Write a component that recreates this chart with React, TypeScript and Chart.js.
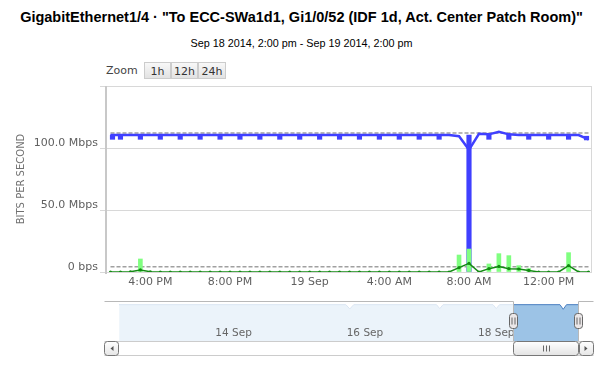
import React, { useEffect, useRef } from 'react';
import { Chart, registerables } from 'chart.js';
Chart.register(...registerables);

const TITLE = 'GigabitEthernet1/4 · "To ECC-SWa1d1, Gi1/0/52 (IDF 1d, Act. Center Patch Room)"';
const SUBTITLE = 'Sep 18 2014, 2:00 pm - Sep 19 2014, 2:00 pm';
const zoomLabel = 'Zoom';
const zoomButtons = ['1h', '12h', '24h'];

// hours since Sep 18 2014, 2:00 pm
const xTickHours = [2, 6, 10, 14, 18, 22];
const xTickLabels = ['4:00 PM', '8:00 PM', '19 Sep', '4:00 AM', '8:00 AM', '12:00 PM'];
const yTickValues = [0, 50, 100, 150]; // Mbps
const yTickLabels = ['0 bps', '50.0 Mbps', '100.0 Mbps', ''];
const yTitle = 'BITS PER SECOND';

const halfHours = [
  0, 0.5, 1, 1.5, 2, 2.5, 3, 3.5, 4, 4.5, 5, 5.5, 6, 6.5, 7, 7.5, 8, 8.5, 9, 9.5,
  10, 10.5, 11, 11.5, 12, 12.5, 13, 13.5, 14, 14.5, 15, 15.5, 16, 16.5, 17, 17.5,
  18, 18.5, 19, 19.5, 20, 20.5, 21, 21.5, 22, 22.5, 23, 23.5, 24,
];
const blueLineMbps = [
  110.5, 110.5, 110.5, 110.5, 110.5, 110.5, 110.5, 110.5, 110.5, 110.5,
  110.5, 110.5, 110.5, 110.5, 110.5, 110.5, 110.5, 110.5, 110.5, 110.5,
  110.5, 110.5, 110.5, 110.5, 110.5, 110.5, 110.5, 110.5, 110.5, 110.5,
  110.5, 110.5, 110.5, 110.5, 110.5, 109.5, 98.5, 111.5, 111, 113,
  111, 110.5, 110.5, 110.5, 110.5, 110.5, 110.5, 110.5, 107,
];
const greenLineMbps = [
  0, 0, 0.2, 1.7, 0.2, 0, 0, 0, 0, 0,
  0, 0, 0, 0, 0, 0, 0, 0, 0, 0,
  0, 0, 0, 0, 0, 0, 0, 0, 0, 0,
  0, 0, 0, 0, 0, 3.5, 7, 0, 2.7, 4.5,
  2.7, 2.4, 1.3, 0, 0, 0, 5.2, 0, 0,
];

const blueTabHours = [
  0.1, 0.5, 1.5, 2.5, 3.5, 4.5, 5.5, 6.5, 7.5, 8.5, 9.5, 10.5, 11.5, 12.5, 13.5,
  14.5, 15.5, 16.5, 18, 19, 20, 21, 22, 23, 23.9,
];
const blueTabLow = [
  107, 107, 107, 107, 107, 107, 107, 107, 107, 107, 107, 107, 107, 107, 107,
  107, 107, 107, 0, 107, 107, 107, 107, 107, 106.5,
];
const blueTabHigh = [
  110.5, 110.5, 110.5, 110.5, 110.5, 110.5, 110.5, 110.5, 110.5, 110.5, 110.5, 110.5, 110.5, 110.5, 110.5,
  110.5, 110.5, 110.5, 110.5, 111, 111, 110.5, 110.5, 110.5, 109.5,
];

const greenBarHours = [1.5, 17.5, 18, 19, 19.5, 20, 20.5, 21, 23];
const greenBarMbps = [10.5, 13.7, 18.5, 6.5, 14.8, 13.2, 5.1, 2.7, 15.6];

const percentileHours = [0, 24];
const highPercentileMbps = 112;
const lowPercentileMbps = 4.3;

// navigator: days since Sep 12 2014, 2:00 pm
const navDays = [0, 3.45, 3.51, 3.57, 4.83, 4.88, 4.93, 5.69, 5.74, 5.79, 6.71, 6.76, 6.81, 7];
const navMbps = [110, 110, 97, 110, 110, 98, 110, 110, 98, 110, 110, 96, 110, 110];
const navTickDays = [1.4167, 3.4167, 5.4167];
const navTickLabels = ['14 Sep', '16 Sep', '18 Sep'];
const navSelStart = 6;
const navSelEnd = 7;

const AXIS_FONT = '"DejaVu Sans", Verdana, sans-serif';

const mainDecor = {
  id: 'mainDecor',
  afterDraw(chart: any) {
    const { ctx, chartArea: a } = chart;
    ctx.save();
    ctx.strokeStyle = '#d8d8d8';
    ctx.lineWidth = 1;
    ctx.beginPath();
    ctx.moveTo(Math.round(a.right) - 0.5, a.top);
    ctx.lineTo(Math.round(a.right) - 0.5, a.bottom);
    ctx.stroke();
    ctx.strokeStyle = '#c8c8c8';
    ctx.lineWidth = 2;
    ctx.beginPath();
    ctx.moveTo(a.left, a.top);
    ctx.lineTo(a.left, a.bottom + 2);
    ctx.stroke();
    ctx.restore();
  },
};

function roundRect(ctx: any, x: number, y: number, w: number, h: number, r: number) {
  ctx.beginPath();
  ctx.moveTo(x + r, y);
  ctx.lineTo(x + w - r, y);
  ctx.arcTo(x + w, y, x + w, y + r, r);
  ctx.lineTo(x + w, y + h - r);
  ctx.arcTo(x + w, y + h, x + w - r, y + h, r);
  ctx.lineTo(x + r, y + h);
  ctx.arcTo(x, y + h, x, y + h - r, r);
  ctx.lineTo(x, y + r);
  ctx.arcTo(x, y, x + r, y, r);
  ctx.closePath();
}

const navDecor = {
  id: 'navDecor',
  beforeDatasetsDraw(chart: any) {
    const { ctx, chartArea: a, scales } = chart;
    const x = scales.x;
    ctx.save();
    ctx.strokeStyle = '#e4e4e4';
    ctx.lineWidth = 1;
    navTickDays.forEach((d) => {
      const px = Math.round(x.getPixelForValue(d)) + 0.5;
      ctx.beginPath();
      ctx.moveTo(px, a.top);
      ctx.lineTo(px, a.bottom);
      ctx.stroke();
    });
    ctx.restore();
  },
  afterDatasetsDraw(chart: any) {
    const { ctx, chartArea: a, scales } = chart;
    const x = scales.x;
    const l = x.getPixelForValue(navSelStart);
    const r = x.getPixelForValue(navSelEnd);
    ctx.save();
    ctx.fillStyle = 'rgba(255,255,255,0.8)';
    ctx.fillRect(a.left, a.top - 3, l - a.left, a.bottom - a.top + 3);
    if (a.right > r) ctx.fillRect(r, a.top - 3, a.right - r, a.bottom - a.top + 3);
    ctx.fillStyle = '#666666';
    ctx.font = '10.5px ' + AXIS_FONT;
    ctx.textAlign = 'left';
    ctx.textBaseline = 'middle';
    navTickLabels.forEach((t, i) => {
      ctx.fillText(t, x.getPixelForValue(navTickDays[i]) + 3, a.top + 29);
    });
    ctx.restore();
  },
  afterDraw(chart: any) {
    const { ctx, chartArea: a, scales } = chart;
    const x = scales.x;
    const l = Math.round(x.getPixelForValue(navSelStart)) + 0.5;
    const r = Math.round(x.getPixelForValue(navSelEnd)) - 0.5;
    const tl = Math.round(a.left) - 14.5;
    const tr = Math.round(a.right) + 14.5;
    const top = Math.round(a.top) - 3 + 0.5;
    const bot = Math.round(a.bottom) + 0.5;
    ctx.save();
    ctx.strokeStyle = '#b8b8b8';
    ctx.lineWidth = 1;
    ctx.beginPath();
    ctx.moveTo(tl, top);
    ctx.lineTo(l, top);
    ctx.lineTo(l, bot);
    ctx.lineTo(r, bot);
    ctx.lineTo(r, top);
    ctx.lineTo(tr, top);
    ctx.stroke();
    ctx.fillStyle = '#ffffff';
    ctx.fillRect(tl, bot, tr - tl, 14);
    ctx.strokeStyle = '#cccccc';
    ctx.beginPath();
    ctx.moveTo(tl, bot);
    ctx.lineTo(tr, bot);
    ctx.moveTo(tl, bot + 14);
    ctx.lineTo(tr, bot + 14);
    ctx.stroke();
    const btn = (bx: number, dir: number) => {
      const g = ctx.createLinearGradient(0, bot, 0, bot + 14);
      g.addColorStop(0, '#ffffff');
      g.addColorStop(1, '#e6e6e6');
      roundRect(ctx, bx, bot, 14, 14, 3);
      ctx.fillStyle = g;
      ctx.fill();
      ctx.strokeStyle = '#777777';
      ctx.stroke();
      ctx.fillStyle = '#555555';
      ctx.beginPath();
      const cx = bx + 7;
      const cy = bot + 7;
      ctx.moveTo(cx + dir * 2, cy - 2.5);
      ctx.lineTo(cx + dir * 2, cy + 2.5);
      ctx.lineTo(cx - dir * 1, cy);
      ctx.closePath();
      ctx.fill();
    };
    btn(tl, 1);
    btn(tr - 14, -1);
    const g2 = ctx.createLinearGradient(0, bot, 0, bot + 14);
    g2.addColorStop(0, '#ffffff');
    g2.addColorStop(1, '#e3e3e3');
    roundRect(ctx, l, bot, r - l, 14, 3);
    ctx.fillStyle = g2;
    ctx.fill();
    ctx.strokeStyle = '#777777';
    ctx.stroke();
    const mid = Math.round((l + r) / 2) + 0.5;
    ctx.strokeStyle = '#666666';
    ctx.beginPath();
    [-3, 0, 3].forEach((o) => {
      ctx.moveTo(mid + o, bot + 4);
      ctx.lineTo(mid + o, bot + 10);
    });
    ctx.stroke();
    [l, r].forEach((hx) => {
      const hy = Math.round(a.top) + 9.5;
      roundRect(ctx, hx - 4, hy, 8, 15, 3);
      ctx.fillStyle = '#ebe7e8';
      ctx.fill();
      ctx.strokeStyle = '#666666';
      ctx.stroke();
      ctx.beginPath();
      ctx.moveTo(hx - 1.5, hy + 4);
      ctx.lineTo(hx - 1.5, hy + 11);
      ctx.moveTo(hx + 1.5, hy + 4);
      ctx.lineTo(hx + 1.5, hy + 11);
      ctx.stroke();
    });
    ctx.restore();
  },
};

export default function App() {
  const mainRef = useRef<HTMLCanvasElement>(null);
  const navRef = useRef<HTMLCanvasElement>(null);

  useEffect(() => {
    document.body.style.margin = '0';
    const main = new Chart(mainRef.current as HTMLCanvasElement, {
      type: 'bar',
      data: {
        datasets: [
          {
            type: 'line',
            label: 'Out',
            data: halfHours.map((h, i) => ({ x: h, y: greenLineMbps[i] })),
            borderColor: '#138a13',
            backgroundColor: '#138a13',
            borderWidth: 1.5,
            pointRadius: 1.6,
            pointBorderWidth: 0,
            pointBackgroundColor: '#138a13',
            tension: 0,
            order: 0,
          } as any,
          {
            type: 'bar',
            label: 'Out peak',
            data: greenBarHours.map((h, i) => ({ x: h, y: greenBarMbps[i] })),
            backgroundColor: '#80ff80',
            barThickness: 4,
            grouped: false,
            order: 1,
          } as any,
          {
            type: 'line',
            label: 'Out 95th percentile',
            data: percentileHours.map((h) => ({ x: h, y: lowPercentileMbps })),
            borderColor: '#a0a0a0',
            borderWidth: 1.5,
            borderDash: [4, 2],
            pointRadius: 0,
            order: 2,
          } as any,
          {
            type: 'bar',
            label: 'In peak',
            data: blueTabHours.map((h, i) => ({ x: h, y: [blueTabLow[i], blueTabHigh[i]] })),
            backgroundColor: '#4040ff',
            barThickness: 4.5,
            grouped: false,
            order: 3,
          } as any,
          {
            type: 'line',
            label: 'In',
            data: halfHours.map((h, i) => ({ x: h, y: blueLineMbps[i] })),
            borderColor: '#4040ff',
            borderWidth: 2.5,
            pointRadius: 0,
            tension: 0,
            order: 4,
          } as any,
          {
            type: 'line',
            label: 'In 95th percentile',
            data: percentileHours.map((h) => ({ x: h, y: highPercentileMbps })),
            borderColor: '#a0a0a0',
            borderWidth: 1.5,
            borderDash: [4, 2],
            pointRadius: 0,
            order: 5,
          } as any,
        ],
      },
      options: {
        animation: false,
        responsive: false,
        maintainAspectRatio: false,
        layout: { padding: { top: 6, right: 11, left: 0, bottom: 0 } },
        plugins: { legend: { display: false }, tooltip: { enabled: false }, title: { display: false } },
        scales: {
          x: {
            type: 'linear',
            min: -0.226,
            max: 24.176,
            offset: false,
            grid: { display: false, drawTicks: false },
            border: { display: false },
            ticks: {
              padding: 4,
              color: '#606060',
              font: { family: AXIS_FONT, size: 11 },
              maxRotation: 0,
              callback: (v: any) => {
                const i = xTickHours.indexOf(Number(v));
                return i >= 0 ? xTickLabels[i] : '';
              },
            },
            afterBuildTicks: (s: any) => {
              s.ticks = xTickHours.map((v) => ({ value: v }));
            },
            afterFit: (s: any) => {
              s.height = 23;
              s.paddingLeft = 0;
              s.paddingRight = 0;
            },
          } as any,
          y: {
            type: 'linear',
            min: 0,
            max: 150,
            grid: { color: '#d8d8d8', tickLength: 6, tickColor: '#d8d8d8' },
            border: { display: false },
            ticks: {
              padding: 2,
              labelOffset: -5,
              color: '#606060',
              font: { family: AXIS_FONT, size: 11 },
              callback: (v: any) => {
                const i = yTickValues.indexOf(Number(v));
                return i >= 0 ? yTickLabels[i] : '';
              },
            },
            afterBuildTicks: (s: any) => {
              s.ticks = yTickValues.map((v) => ({ value: v }));
            },
            title: {
              display: true,
              text: yTitle,
              color: '#707070',
              font: { family: AXIS_FONT, size: 10 },
              padding: { top: 15, bottom: 0 },
            },
            afterFit: (s: any) => {
              s.width = 106;
              s.paddingTop = 0;
              s.paddingBottom = 0;
            },
          } as any,
        },
      },
      plugins: [mainDecor],
    });

    const nav = new Chart(navRef.current as HTMLCanvasElement, {
      type: 'line',
      data: {
        datasets: [
          {
            label: 'Navigator',
            data: navDays.map((d, i) => ({ x: d, y: navMbps[i] })),
            borderColor: '#4a7fc1',
            borderWidth: 1,
            backgroundColor: '#9cc3e6',
            fill: 'origin',
            pointRadius: 0,
            tension: 0,
          } as any,
        ],
      },
      options: {
        animation: false,
        responsive: false,
        maintainAspectRatio: false,
        layout: { padding: { top: 14, left: 119.3, right: 24, bottom: 24 } },
        plugins: { legend: { display: false }, tooltip: { enabled: false } },
        scales: {
          x: { type: 'linear', min: 0, max: 7, display: false },
          y: { type: 'linear', min: 0, max: 112, display: false },
        },
      },
      plugins: [navDecor],
    });

    return () => {
      main.destroy();
      nav.destroy();
    };
  }, []);

  const btnStyle: React.CSSProperties = {
    position: 'absolute',
    top: 62,
    height: 17,
    lineHeight: '17px',
    boxSizing: 'border-box',
    border: '1px solid #cccccc',
    background: 'linear-gradient(#f8f8f8, #e2e2e2)',
    textAlign: 'center',
    fontFamily: AXIS_FONT,
    fontSize: 11,
    color: '#333333',
  };
  const btnLefts = [144, 171, 198];
  const btnWidths = [27, 27, 28];

  return (
    <div style={{ position: 'fixed', left: 0, top: 0, width: 603, height: 365, background: '#ffffff', overflow: 'hidden' }}>
      <div
        style={{
          position: 'absolute', left: 0, top: 6, width: 603, height: 22, lineHeight: '22px',
          textAlign: 'center', fontFamily: '"Liberation Sans", Arial, sans-serif', fontWeight: 'bold',
          fontSize: 14.5, color: '#000000', whiteSpace: 'nowrap',
        }}
      >
        {TITLE}
      </div>
      <div
        style={{
          position: 'absolute', left: 0, top: 35, width: 603, height: 16, lineHeight: '16px',
          textAlign: 'center', fontFamily: '"Liberation Sans", Arial, sans-serif',
          fontSize: 10.8, color: '#000000', whiteSpace: 'nowrap',
        }}
      >
        {SUBTITLE}
      </div>
      <div
        style={{
          position: 'absolute', left: 106, top: 62, height: 17, lineHeight: '17px',
          fontFamily: AXIS_FONT, fontSize: 11, color: '#444444',
        }}
      >
        {zoomLabel}
      </div>
      {zoomButtons.map((b, i) => (
        <div key={b} style={{ ...btnStyle, left: btnLefts[i], width: btnWidths[i] }}>
          {b}
        </div>
      ))}
      <canvas ref={mainRef} width={603} height={215} style={{ position: 'absolute', left: 0, top: 80, width: 603, height: 215 }} />
      <canvas ref={navRef} width={603} height={75} style={{ position: 'absolute', left: 0, top: 290, width: 603, height: 75 }} />
    </div>
  );
}
